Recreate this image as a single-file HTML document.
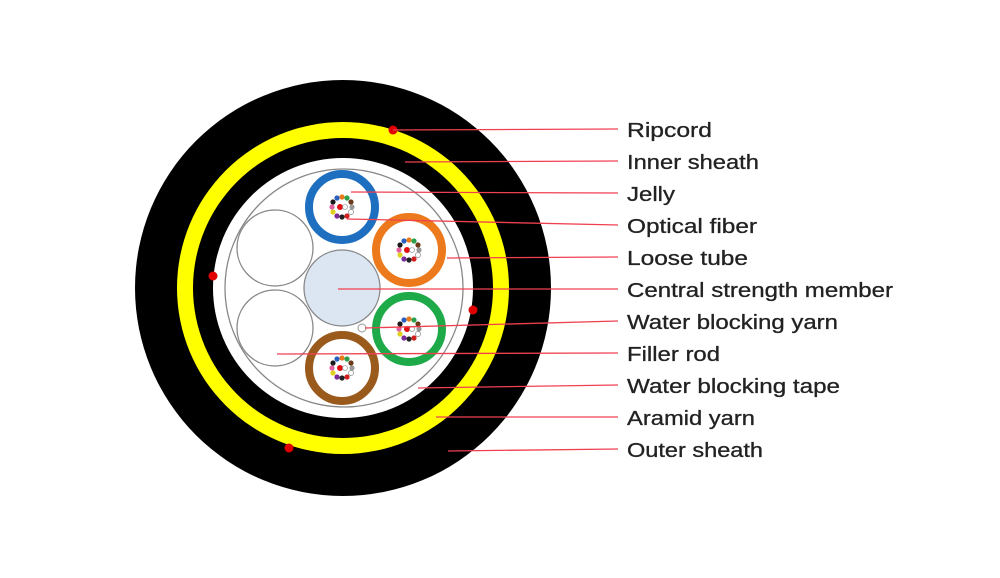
<!DOCTYPE html>
<html><head><meta charset="utf-8"><style>body{margin:0;background:#fff}svg{display:block}</style></head><body>
<svg width="1000" height="578" viewBox="0 0 1000 578" xmlns="http://www.w3.org/2000/svg">
<defs>
<g id="fb">
<circle cx="-9" cy="-5" r="2.6" fill="#1a1a1a"/>
<circle cx="-5" cy="-9" r="2.6" fill="#2a5fc0"/>
<circle cx="0" cy="-10" r="2.6" fill="#e87b1c"/>
<circle cx="5" cy="-9" r="2.6" fill="#2aa04a"/>
<circle cx="9" cy="-5" r="2.6" fill="#6b3a1a"/>
<circle cx="10" cy="0" r="2.6" fill="#999"/>
<circle cx="9" cy="5" r="2.6" fill="#fff" stroke="#777" stroke-width="0.6"/>
<circle cx="5" cy="9" r="2.6" fill="#d02020"/>
<circle cx="0" cy="10" r="2.6" fill="#222"/>
<circle cx="-5" cy="9" r="2.6" fill="#7a2a9a"/>
<circle cx="-9" cy="5" r="2.6" fill="#e0d020"/>
<circle cx="-10" cy="0" r="2.6" fill="#e060a0"/>
<circle cx="-2" cy="0" r="3" fill="#e01010"/>
<circle cx="3" cy="0" r="2.5" fill="#fff" stroke="#888" stroke-width="0.6"/>
</g>
</defs>
<circle cx="343" cy="288" r="208" fill="#000"/>
<circle cx="343" cy="288" r="166" fill="#ffff00"/>
<circle cx="343" cy="288" r="150" fill="#000"/>
<circle cx="343" cy="288" r="130" fill="#fff"/>
<circle cx="344" cy="288" r="119" fill="none" stroke="#888" stroke-width="1.3"/>
<circle cx="275" cy="248" r="38" fill="#fff" stroke="#888" stroke-width="1.3"/>
<circle cx="275" cy="328" r="38" fill="#fff" stroke="#888" stroke-width="1.3"/>
<circle cx="342" cy="288" r="38" fill="#dce6f2" stroke="#888" stroke-width="1.3"/>
<circle cx="342" cy="207" r="33" fill="#fff" stroke="#1f6fc0" stroke-width="8"/>
<circle cx="409" cy="250" r="33" fill="#fff" stroke="#ec7a1c" stroke-width="8"/>
<circle cx="409" cy="329" r="33" fill="#fff" stroke="#1faa4a" stroke-width="8"/>
<circle cx="342" cy="368" r="33" fill="#fff" stroke="#9a5a1c" stroke-width="8"/>
<use href="#fb" x="342" y="207"/>
<use href="#fb" x="409" y="250"/>
<use href="#fb" x="409" y="329"/>
<use href="#fb" x="342" y="368"/>
<circle cx="362" cy="328" r="4" fill="#fff" stroke="#999" stroke-width="1"/>
<g fill="#e00000">
<circle cx="393" cy="130" r="4.5"/><circle cx="213" cy="276" r="4.5"/><circle cx="473" cy="310" r="4.5"/><circle cx="289" cy="448" r="4.5"/>
</g>
<g stroke="#f04050" stroke-width="1.3" fill="none">
<line x1="393" y1="130" x2="618" y2="129"/>
<line x1="405" y1="162" x2="618" y2="161"/>
<line x1="351" y1="192" x2="618" y2="193"/>
<line x1="347" y1="219" x2="618" y2="225"/>
<line x1="447" y1="258" x2="618" y2="257"/>
<line x1="338" y1="289" x2="618" y2="289"/>
<line x1="365" y1="328" x2="618" y2="321"/>
<line x1="277" y1="354" x2="618" y2="353"/>
<line x1="418" y1="388" x2="618" y2="385"/>
<line x1="436" y1="417" x2="618" y2="417"/>
<line x1="448" y1="451" x2="618" y2="449"/>
</g>
<g font-family="Liberation Sans, Arial, sans-serif" font-size="20" fill="#222" stroke="#222" stroke-width="0.3" lengthAdjust="spacingAndGlyphs">
<text x="627" y="137" textLength="85" lengthAdjust="spacingAndGlyphs">Ripcord</text>
<text x="627" y="169" textLength="132" lengthAdjust="spacingAndGlyphs">Inner sheath</text>
<text x="627" y="201" textLength="48" lengthAdjust="spacingAndGlyphs">Jelly</text>
<text x="627" y="233" textLength="130" lengthAdjust="spacingAndGlyphs">Optical fiber</text>
<text x="627" y="265" textLength="121" lengthAdjust="spacingAndGlyphs">Loose tube</text>
<text x="627" y="297" textLength="266" lengthAdjust="spacingAndGlyphs">Central strength member</text>
<text x="627" y="329" textLength="211" lengthAdjust="spacingAndGlyphs">Water blocking yarn</text>
<text x="627" y="361" textLength="93" lengthAdjust="spacingAndGlyphs">Filler rod</text>
<text x="627" y="393" textLength="213" lengthAdjust="spacingAndGlyphs">Water blocking tape</text>
<text x="627" y="425" textLength="128" lengthAdjust="spacingAndGlyphs">Aramid yarn</text>
<text x="627" y="457" textLength="136" lengthAdjust="spacingAndGlyphs">Outer sheath</text>
</g>
</svg>
</body></html>
